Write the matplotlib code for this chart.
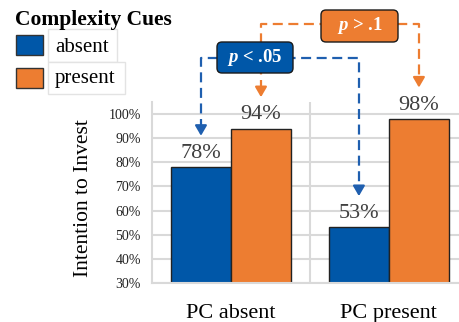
import numpy as np
import matplotlib
matplotlib.use("Agg")
import matplotlib.pyplot as plt
from matplotlib.patches import Rectangle, FancyBboxPatch
from matplotlib.transforms import Affine2D

# data
categories = ["PC absent", "PC present"]
cue_levels = ["absent", "present"]
absent_vals = [78, 53]
present_vals = [94, 98]
yticks = [30, 40, 50, 60, 70, 80, 90, 100]
legend_title = "Complexity Cues"
ylabel = "Intention to Invest"

blue = "#0057A8"
orange = "#ED7D31"
grid_c = "#D9D9D9"
txt_c = "#404040"

plt.rcParams['font.family'] = ['Liberation Serif', 'DejaVu Serif']
plt.rcParams['mathtext.fontset'] = 'custom'
plt.rcParams['mathtext.rm'] = 'Liberation Serif:bold'
plt.rcParams['mathtext.it'] = 'Liberation Serif:italic:bold'
plt.rcParams['mathtext.bf'] = 'Liberation Serif:bold'

W, H = 460, 322
fig = plt.figure(figsize=(W/100, H/100), dpi=100)
# pixel coords from top-left corner, for the legend and the test boxes
tpx = Affine2D().scale(1/100, -1/100).translate(0, H/100) + fig.dpi_scale_trans

ax = fig.add_axes([152/W, 1-283/H, 308/W, 181/H])
x = np.arange(len(categories))
w = 0.38
ax.bar(x - w/2, absent_vals, w, color=blue, edgecolor="#222222", linewidth=1, zorder=2)
ax.bar(x + w/2, present_vals, w, color=orange, edgecolor="#222222", linewidth=1, zorder=2)

ax.set_xlim(-0.5, 1.45)
ax.set_ylim(30, 105)
ax.set_yticks(yticks)
ax.set_yticklabels([f"{v}%" for v in yticks])
ax.set_xticks(x)
ax.set_xticklabels(categories)
ax.set_xticks([0.5], minor=True)
ax.yaxis.grid(True, color=grid_c, lw=1.5)
ax.xaxis.grid(True, which='minor', color=grid_c, lw=1.5)
ax.set_axisbelow(True)
for s in ["top", "right"]:
    ax.spines[s].set_visible(False)
for s in ["left", "bottom"]:
    ax.spines[s].set_color(grid_c)
    ax.spines[s].set_linewidth(1.5)
ax.tick_params(axis='y', length=0, labelsize=10, pad=8, labelcolor="#222222")
ax.tick_params(axis='x', which='both', length=0, labelsize=16, pad=15)
ax.set_ylabel(ylabel, fontsize=15.5)
ax.yaxis.set_label_coords(-0.192, 0.47)

for i in range(len(categories)):
    for xx, v in [(x[i] - w/2, absent_vals[i]), (x[i] + w/2, present_vals[i])]:
        ax.annotate(f"{v}%", (xx, v), xytext=(0, 3), textcoords='offset points',
                    ha='center', va='bottom', fontsize=16, color=txt_c)

# significance brackets
def bracket(x1, v1, x2, v2, h, color, z):
    off = 13
    ax.plot([x1, x1, x2, x2], [v1 + off + 3, h, h, v2 + off + 3], color=color, lw=1.6,
            dashes=(4.5, 2.5), clip_on=False, zorder=z)
    for xx, v in [(x1, v1), (x2, v2)]:
        ax.annotate('', xy=(xx, v + off), xytext=(xx, v + off + 3.5),
                    arrowprops=dict(arrowstyle='-|>,head_length=0.6,head_width=0.35',
                                    color=color, lw=1.6, shrinkA=0, shrinkB=0),
                    annotation_clip=False, zorder=z)

bracket(x[0] + w/2, present_vals[0], x[1] + w/2, present_vals[1], 137.5, orange, 3)
bracket(x[0] - w/2, absent_vals[0], x[1] - w/2, absent_vals[1], 123.4, "#1F5FAF", 4)

def test_box(x0, y0, x1, y1, color, label):
    fig.add_artist(FancyBboxPatch((x0, y0), x1 - x0, y1 - y0,
                                  boxstyle='round,pad=0,rounding_size=5',
                                  fc=color, ec="#1a1a1a", lw=1, transform=tpx, zorder=6))
    fig.text((x0 + x1) / 2, (y0 + y1) / 2, label, transform=tpx, ha='center', va='center',
             color='white', fontsize=13.5, fontweight='bold', zorder=7)

test_box(217, 42, 293, 73, blue, r"$p$ < .05")
test_box(321, 10, 398, 42, orange, r"$p$ > .1")

# legend
fig.text(15, 25, legend_title, transform=tpx, fontsize=15.5, fontweight='bold', va='baseline')
for (y0, y1, by0, by1, bx1, c, lab, base) in [(35, 55, 29, 62, 117, blue, cue_levels[0], 52),
                                              (68, 88, 62, 94, 125, orange, cue_levels[1], 83)]:
    fig.add_artist(Rectangle((16, y0), 27, y1 - y0, transform=tpx, fc=c, ec="#333333", lw=1))
    fig.add_artist(Rectangle((48, by0), bx1 - 48, by1 - by0, transform=tpx, fc='white',
                             ec="#E3E3E3", lw=1))
    fig.text(55, base, lab, transform=tpx, fontsize=15, va='baseline')

fig.savefig("out.png", dpi=100)
